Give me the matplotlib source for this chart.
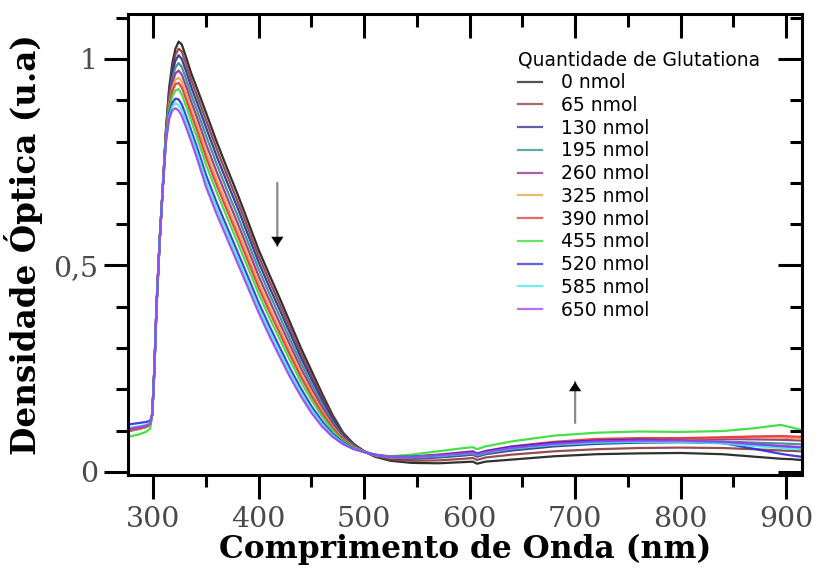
import matplotlib
matplotlib.use('Agg')
import matplotlib.pyplot as plt
from matplotlib.ticker import MultipleLocator, FuncFormatter

# Wavelength grid (nm) shared by all spectra
wavelength = [276, 285, 293, 297, 299, 301, 303, 306, 309,
              312, 315, 318, 321, 324, 327, 331, 336, 342, 350,
              360, 370, 380, 390, 400, 410, 420, 430, 440, 450,
              460, 470, 480, 490, 500, 510, 525, 545, 570, 595,
              603, 607, 615, 640, 680, 720, 760, 800, 840, 870,
              895, 905, 914]

labels = ['0 nmol', '65 nmol', '130 nmol', '195 nmol', '260 nmol', '325 nmol',
          '390 nmol', '455 nmol', '520 nmol', '585 nmol', '650 nmol']

colors = ['#1a1a1a', '#8b3a3a', '#2a2a90', '#2e8b8b', '#8e2b8e', '#f0a040',
          '#e8303a', '#33dd33', '#2a2ae0', '#40e8e8', '#9a40f0']

od_0 = [0.100, 0.104, 0.110, 0.115, 0.14, 0.25, 0.40, 0.56, 0.69,
        0.830, 0.930, 0.990, 1.025, 1.042, 1.035, 1.005, 0.965, 0.925, 0.870,
        0.800, 0.735, 0.672, 0.605, 0.537, 0.478, 0.420, 0.360, 0.300, 0.245,
        0.190, 0.138, 0.095, 0.068, 0.050, 0.037, 0.027, 0.022, 0.021, 0.024,
        0.025, 0.020, 0.025, 0.030, 0.038, 0.043, 0.045, 0.046, 0.043, 0.037,
        0.032, 0.031, 0.029]
od_65 = [0.102, 0.106, 0.111, 0.116, 0.14, 0.25, 0.40, 0.56, 0.69,
         0.827, 0.923, 0.979, 1.011, 1.025, 1.018, 0.988, 0.949, 0.908, 0.852,
         0.783, 0.718, 0.655, 0.589, 0.522, 0.463, 0.406, 0.347, 0.288, 0.235,
         0.182, 0.133, 0.092, 0.067, 0.050, 0.038, 0.030, 0.027, 0.028, 0.032,
         0.034, 0.029, 0.035, 0.042, 0.050, 0.055, 0.058, 0.059, 0.058, 0.055,
         0.052, 0.051, 0.050]
od_130 = [0.105, 0.108, 0.112, 0.117, 0.14, 0.25, 0.40, 0.56, 0.69,
          0.824, 0.915, 0.967, 0.996, 1.009, 1.000, 0.971, 0.932, 0.891, 0.834,
          0.765, 0.701, 0.639, 0.573, 0.507, 0.448, 0.392, 0.334, 0.277, 0.225,
          0.174, 0.127, 0.089, 0.065, 0.050, 0.040, 0.033, 0.032, 0.035, 0.040,
          0.042, 0.037, 0.043, 0.052, 0.062, 0.068, 0.071, 0.072, 0.070, 0.066,
          0.062, 0.061, 0.060]
od_195 = [0.098, 0.103, 0.108, 0.114, 0.14, 0.25, 0.40, 0.56, 0.69,
          0.821, 0.907, 0.955, 0.980, 0.990, 0.981, 0.952, 0.914, 0.872, 0.814,
          0.746, 0.682, 0.620, 0.555, 0.490, 0.432, 0.376, 0.319, 0.264, 0.213,
          0.165, 0.122, 0.086, 0.064, 0.049, 0.040, 0.034, 0.034, 0.037, 0.042,
          0.044, 0.039, 0.045, 0.055, 0.065, 0.071, 0.074, 0.075, 0.074, 0.071,
          0.069, 0.068, 0.067]
od_260 = [0.103, 0.107, 0.111, 0.116, 0.14, 0.25, 0.40, 0.56, 0.69,
          0.817, 0.899, 0.942, 0.965, 0.972, 0.962, 0.934, 0.896, 0.854, 0.794,
          0.727, 0.664, 0.602, 0.538, 0.473, 0.416, 0.360, 0.305, 0.251, 0.202,
          0.156, 0.116, 0.083, 0.063, 0.049, 0.041, 0.035, 0.036, 0.040, 0.046,
          0.048, 0.043, 0.049, 0.059, 0.070, 0.077, 0.080, 0.080, 0.080, 0.079,
          0.078, 0.077, 0.076]
od_325 = [0.100, 0.104, 0.109, 0.115, 0.14, 0.25, 0.40, 0.56, 0.69,
          0.814, 0.891, 0.931, 0.950, 0.955, 0.945, 0.917, 0.879, 0.837, 0.776,
          0.709, 0.647, 0.585, 0.522, 0.458, 0.401, 0.346, 0.291, 0.239, 0.192,
          0.148, 0.110, 0.080, 0.061, 0.049, 0.041, 0.035, 0.036, 0.040, 0.046,
          0.048, 0.043, 0.049, 0.060, 0.071, 0.077, 0.080, 0.081, 0.083, 0.084,
          0.083, 0.082, 0.080]
od_390 = [0.101, 0.105, 0.110, 0.115, 0.14, 0.25, 0.40, 0.56, 0.69,
          0.812, 0.885, 0.922, 0.939, 0.942, 0.931, 0.903, 0.866, 0.823, 0.762,
          0.695, 0.633, 0.572, 0.509, 0.446, 0.389, 0.335, 0.281, 0.230, 0.184,
          0.142, 0.106, 0.078, 0.060, 0.049, 0.042, 0.036, 0.037, 0.042, 0.048,
          0.050, 0.045, 0.051, 0.062, 0.073, 0.080, 0.082, 0.082, 0.084, 0.086,
          0.087, 0.086, 0.085]
od_455 = [0.085, 0.090, 0.097, 0.105, 0.14, 0.25, 0.40, 0.56, 0.69,
          0.809, 0.878, 0.910, 0.924, 0.927, 0.914, 0.886, 0.849, 0.806, 0.744,
          0.678, 0.616, 0.555, 0.493, 0.431, 0.374, 0.321, 0.268, 0.218, 0.174,
          0.134, 0.101, 0.075, 0.059, 0.049, 0.042, 0.038, 0.042, 0.050, 0.058,
          0.060, 0.055, 0.062, 0.074, 0.088, 0.095, 0.098, 0.097, 0.099, 0.106,
          0.114, 0.108, 0.102]
od_520 = [0.115, 0.118, 0.121, 0.124, 0.14, 0.25, 0.40, 0.56, 0.69,
          0.805, 0.867, 0.894, 0.904, 0.902, 0.890, 0.862, 0.826, 0.782, 0.719,
          0.653, 0.592, 0.532, 0.471, 0.409, 0.354, 0.301, 0.249, 0.202, 0.159,
          0.123, 0.093, 0.071, 0.057, 0.048, 0.042, 0.037, 0.037, 0.041, 0.047,
          0.049, 0.044, 0.050, 0.061, 0.071, 0.076, 0.078, 0.076, 0.070, 0.056,
          0.044, 0.040, 0.037]
od_585 = [0.106, 0.110, 0.114, 0.118, 0.14, 0.25, 0.40, 0.56, 0.69,
          0.802, 0.861, 0.885, 0.893, 0.888, 0.876, 0.849, 0.813, 0.769, 0.704,
          0.639, 0.579, 0.518, 0.458, 0.397, 0.342, 0.289, 0.239, 0.192, 0.151,
          0.116, 0.089, 0.069, 0.056, 0.048, 0.041, 0.036, 0.036, 0.039, 0.044,
          0.046, 0.041, 0.047, 0.057, 0.066, 0.071, 0.073, 0.073, 0.069, 0.063,
          0.058, 0.056, 0.055]
od_650 = [0.104, 0.108, 0.112, 0.117, 0.14, 0.25, 0.40, 0.56, 0.69,
          0.800, 0.855, 0.876, 0.881, 0.875, 0.862, 0.835, 0.800, 0.755, 0.690,
          0.625, 0.565, 0.505, 0.445, 0.385, 0.330, 0.278, 0.228, 0.183, 0.143,
          0.110, 0.085, 0.067, 0.055, 0.048, 0.041, 0.036, 0.036, 0.040, 0.045,
          0.047, 0.042, 0.048, 0.058, 0.068, 0.074, 0.076, 0.076, 0.073, 0.068,
          0.063, 0.061, 0.060]

spectra = [od_0, od_65, od_130, od_195, od_260, od_325,
           od_390, od_455, od_520, od_585, od_650]

plt.rcParams['font.family'] = 'DejaVu Serif'

fig = plt.figure(figsize=(8.19, 5.70), dpi=100)
pos = [0.1567, 0.1667, 0.8222, 0.8088]
ax = fig.add_axes(pos)

for y, c, lab in zip(spectra, colors, labels):
    ax.plot(wavelength, y, color=c, lw=1.6, alpha=0.9, label=lab)

ax.set_xlim(276.3, 914.9)
ax.set_ylim(-0.0073, 1.109)

ax.xaxis.set_major_locator(MultipleLocator(100))
ax.xaxis.set_minor_locator(MultipleLocator(50))
ax.yaxis.set_major_locator(MultipleLocator(0.5))
ax.yaxis.set_minor_locator(MultipleLocator(0.1))
ax.yaxis.set_major_formatter(FuncFormatter(lambda v, p: f'{v:g}'.replace('.', ',')))

for s in ax.spines.values():
    s.set_linewidth(2.2)

# outward ticks on bottom/left
ax.tick_params(which='major', direction='out', length=17, width=2.2, labelsize=20.5,
               labelcolor='#4a4a4a', pad=5)
ax.tick_params(which='minor', direction='out', length=8.5, width=2.2)

# overlay axes only for the inward ticks on top/right
ax_in = fig.add_axes(pos, sharex=ax, sharey=ax, frameon=False)
ax_in.patch.set_visible(False)
ax_in.tick_params(which='both', direction='in', bottom=False, left=False,
                  top=True, right=True, labelbottom=False, labelleft=False,
                  width=2.2)
ax_in.tick_params(which='major', length=17)
ax_in.tick_params(which='minor', length=9)

ax.set_xlabel('Comprimento de Onda (nm)', fontsize=22.5, fontweight='bold', labelpad=1)
ax.set_ylabel('Densidade Óptica (u.a)', fontsize=23.5, fontweight='bold', labelpad=7)

# trend arrows: gray shaft, black head
for x0, y0, y1 in [(417.6, 0.70, 0.547), (700, 0.119, 0.218)]:
    ax.annotate('', xy=(x0, y1), xytext=(x0, y0),
                arrowprops=dict(arrowstyle='-', color='#8a8a8a', lw=1.6,
                                shrinkA=0, shrinkB=0))
    ax.annotate('', xy=(x0, y1), xytext=(x0, y1 - (y1 - y0) * 0.1),
                arrowprops=dict(arrowstyle='-|>,head_length=0.5,head_width=0.33',
                                color='black', lw=0.5, mutation_scale=12,
                                shrinkA=0, shrinkB=0))

leg = ax.legend(title='Quantidade de Glutationa', loc='upper left',
                bbox_to_anchor=(0.6325, 0.9115), bbox_transform=fig.transFigure,
                frameon=False, borderpad=0, borderaxespad=0,
                prop={'family': 'DejaVu Sans', 'size': 13.5},
                title_fontproperties={'family': 'DejaVu Sans', 'size': 13.5},
                handlelength=1.3, handletextpad=1.0, labelspacing=0.2,
                alignment='left')
for line in leg.get_lines():
    line.set_alpha(0.75)

fig.savefig('out.png', dpi=100)
